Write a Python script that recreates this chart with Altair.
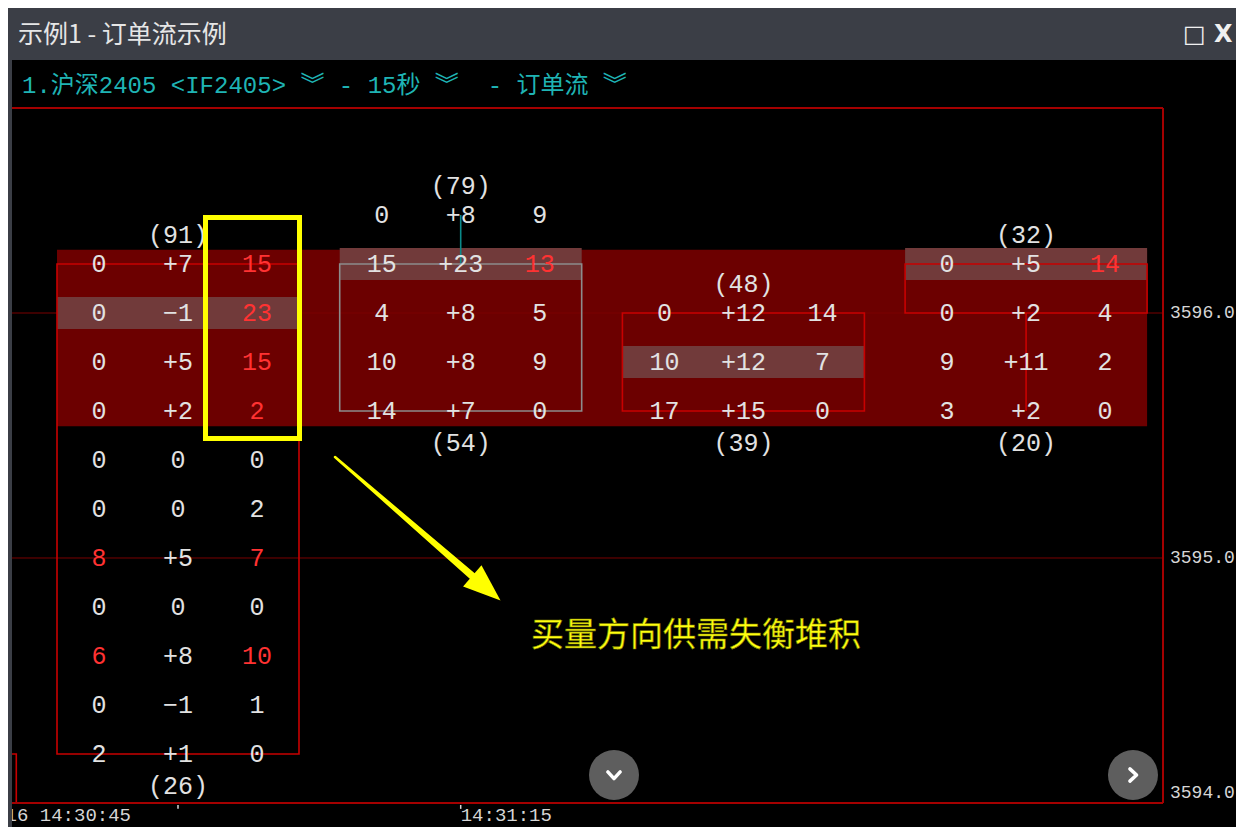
import altair as alt
import pandas as pd

# ------------------------------------------------------------------ data
bar_ids = [0, 1, 2, 3]

bar0_price = [3596.2, 3596.0, 3595.8, 3595.6, 3595.4, 3595.2, 3595.0, 3594.8, 3594.6, 3594.4, 3594.2]
bar0_bid = [0, 0, 0, 0, 0, 0, 8, 0, 6, 0, 2]
bar0_delta = [7, -1, 5, 2, 0, 0, 5, 0, 8, -1, 1]
bar0_ask = [15, 23, 15, 2, 0, 2, 7, 0, 10, 1, 0]
bar0_bid_hot = [0, 0, 0, 0, 0, 0, 1, 0, 1, 0, 0]
bar0_ask_hot = [1, 1, 1, 1, 0, 0, 1, 0, 1, 0, 0]

bar1_price = [3596.4, 3596.2, 3596.0, 3595.8, 3595.6]
bar1_bid = [0, 15, 4, 10, 14]
bar1_delta = [8, 23, 8, 8, 7]
bar1_ask = [9, 13, 5, 9, 0]
bar1_bid_hot = [0, 0, 0, 0, 0]
bar1_ask_hot = [0, 1, 0, 0, 0]

bar2_price = [3596.0, 3595.8, 3595.6]
bar2_bid = [0, 10, 17]
bar2_delta = [12, 12, 15]
bar2_ask = [14, 7, 0]
bar2_bid_hot = [0, 0, 0]
bar2_ask_hot = [0, 0, 0]

bar3_price = [3596.2, 3596.0, 3595.8, 3595.6]
bar3_bid = [0, 0, 9, 3]
bar3_delta = [5, 2, 11, 2]
bar3_ask = [14, 4, 2, 0]
bar3_bid_hot = [0, 0, 0, 0]
bar3_ask_hot = [1, 0, 0, 0]

top_totals = [91, 79, 48, 32]
bottom_totals = [26, 54, 39, 20]
poc_price = [3596.0, 3596.2, 3595.8, 3596.2]

box_bar = [-1, 0, 1, 2, 3]
box_open = [3594.2, 3596.2, 3596.2, 3596.0, 3596.2]
box_close = [3594.0, 3594.2, 3595.6, 3595.6, 3596.0]
box_kind = ["r", "r", "g", "r", "r"]

wick_bar = [1, 3]
wick_high = [3596.4, 3596.0]
wick_low = [3596.2, 3595.6]
wick_kind = ["t", "r"]

band_bars = [0, 3]
band_prices = [3595.6, 3596.2]

grid_prices = [3596.0, 3595.0]
price_axis = [3596.0, 3595.0, 3594.0]
time_labels = ["04/16 14:30:45", "14:31:15"]
time_bars = [0, 1]

# annotation drawn on the screenshot (in bar / price units)
note_box_x = [0.0973, 0.4298]
note_box_y = [3595.4878, 3596.3898]
arrow_x = [0.5554, 1.0587]
arrow_y = [3595.4122, 3594.9086]
arrow_w = [2.5, 7.5]
arrow_head = (1.0909, 3594.8767)
note_text = "买量方向供需失衡堆积"
note_pos = (1.8323, 3594.6816)

button_x = [1.5423, 3.3781]
button_y = [3594.1143, 3594.1143]
button_kind = ["down", "right"]

title_text = "示例1 - 订单流示例"
NB = "\u00a0"
subtitle_text = f"1.沪深2405{NB}<IF2405>{NB}︾{NB}-{NB}15秒{NB}︾{NB}{NB}-{NB}订单流{NB}︾"

# ------------------------------------------------------------------ layout constants
X_MIN, X_MAX = -0.5872, 3.7425
Y_MIN, Y_MAX = 3593.902, 3597.0327
FRAME_RIGHT = 3.4843
FRAME_TOP = 3596.8367
FRAME_BOTTOM = 3594.0
COL = 0.2795
HALF = 0.428
POC_H = 0.065

xs = alt.Scale(domain=[X_MIN, X_MAX], nice=False, zero=False)
ys = alt.Scale(domain=[Y_MIN, Y_MAX], nice=False, zero=False)


def X(f):
    return alt.X(f, type="quantitative", scale=xs, axis=None)


def Y(f):
    return alt.Y(f, type="quantitative", scale=ys, axis=None)


MONO = "Liberation Mono"
CJK = "Noto Sans CJK SC"
WHITE = "#e2e2e2"
HOT = "#ff3232"

bars = [
    (bar0_price, bar0_bid, bar0_delta, bar0_ask, bar0_bid_hot, bar0_ask_hot),
    (bar1_price, bar1_bid, bar1_delta, bar1_ask, bar1_bid_hot, bar1_ask_hot),
    (bar2_price, bar2_bid, bar2_delta, bar2_ask, bar2_bid_hot, bar2_ask_hot),
    (bar3_price, bar3_bid, bar3_delta, bar3_ask, bar3_bid_hot, bar3_ask_hot),
]


def signed(v):
    if v > 0:
        return f"+{v}"
    if v < 0:
        return "\u2212" + str(-v)
    return "0"


cells, totals, pocs = [], [], []
for b, (pr, bid, de, ask, bh, ah) in zip(bar_ids, bars):
    for k, p in enumerate(pr):
        cells.append({"x": b - COL, "y": p, "t": str(bid[k]), "hot": bh[k]})
        cells.append({"x": b, "y": p, "t": signed(de[k]), "hot": 0})
        cells.append({"x": b + COL, "y": p, "t": str(ask[k]), "hot": ah[k]})
    totals.append({"x": b, "y": max(pr) + 0.117, "t": f"({top_totals[b]})"})
    totals.append({"x": b, "y": min(pr) - 0.13, "t": f"({bottom_totals[b]})"})
    pocs.append({"x": b - HALF, "x2": b + HALF, "y": poc_price[b] - POC_H, "y2": poc_price[b] + POC_H})

cells = pd.DataFrame(cells)
totals = pd.DataFrame(totals)
pocs = pd.DataFrame(pocs)

boxes = pd.DataFrame({
    "x": [b - HALF for b in box_bar], "x2": [b + HALF for b in box_bar],
    "y": box_open, "y2": box_close, "k": box_kind,
})
wicks = pd.DataFrame({"x": wick_bar, "y": wick_high, "y2": wick_low, "k": wick_kind})
band = pd.DataFrame({
    "x": [band_bars[0] - HALF], "x2": [band_bars[1] + HALF],
    "y": [band_prices[0] - 0.062], "y2": [band_prices[1] + 0.058],
})
grid = pd.DataFrame({"x": [X_MIN] * len(grid_prices), "x2": [FRAME_RIGHT] * len(grid_prices), "y": grid_prices})
frame = pd.DataFrame({
    "x": [X_MIN, X_MIN, FRAME_RIGHT], "x2": [FRAME_RIGHT, FRAME_RIGHT, FRAME_RIGHT],
    "y": [FRAME_TOP, FRAME_BOTTOM, FRAME_BOTTOM], "y2": [FRAME_TOP, FRAME_BOTTOM, FRAME_TOP],
})
plabels = pd.DataFrame({"x": [FRAME_RIGHT] * len(price_axis), "y": price_axis,
                        "t": [f"{p:.1f}" for p in price_axis]})
tlabels = pd.DataFrame({"x": time_bars, "t": time_labels, "y": [3593.951] * len(time_bars)})
tticks = pd.DataFrame({"x": time_bars, "y": [3593.992] * len(time_bars), "y2": [3593.976] * len(time_bars)})

kind_scale = alt.Scale(domain=["r", "g", "t"], range=["#c80000", "#8c8c8c", "#0a8a8a"])

# ------------------------------------------------------------------ layers
layers = []

layers.append(alt.Chart(band).mark_rect(color="#6c0000").encode(
    x=X("x"), x2="x2", y=Y("y"), y2="y2"))

layers.append(alt.Chart(grid).mark_rule(color="#7a0000", strokeWidth=1).encode(
    x=X("x"), x2="x2", y=Y("y")))

layers.append(alt.Chart(pocs).mark_rect(color="#713a3a").encode(
    x=X("x"), x2="x2", y=Y("y"), y2="y2"))

layers.append(alt.Chart(wicks).mark_rule(strokeWidth=1.6).encode(
    x=X("x"), y=Y("y"), y2="y2",
    stroke=alt.Stroke("k:N", scale=kind_scale, legend=None)))

layers.append(alt.Chart(boxes).mark_rect(fillOpacity=0, strokeWidth=1.6, clip=True).encode(
    x=X("x"), x2="x2", y=Y("y"), y2="y2",
    stroke=alt.Stroke("k:N", scale=kind_scale, legend=None)))

layers.append(alt.Chart(frame).mark_rule(color="#a40000", strokeWidth=2).encode(
    x=X("x"), x2="x2", y=Y("y"), y2="y2"))

layers.append(alt.Chart(cells[cells["hot"] == 0]).mark_text(font=MONO, fontSize=25, baseline="middle",
                                                           color=WHITE).encode(
    x=X("x"), y=Y("y"), text="t:N"))
layers.append(alt.Chart(cells[cells["hot"] == 1]).mark_text(font=MONO, fontSize=25, baseline="middle",
                                                           color=HOT).encode(
    x=X("x"), y=Y("y"), text="t:N"))

layers.append(alt.Chart(totals).mark_text(font=MONO, fontSize=25, baseline="middle", color=WHITE).encode(
    x=X("x"), y=Y("y"), text="t:N"))

layers.append(alt.Chart(plabels.iloc[:2]).mark_text(font=MONO, fontSize=18, align="left", baseline="middle",
                                                    dx=7, color="#d6d6d6").encode(
    x=X("x"), y=Y("y"), text="t:N"))
layers.append(alt.Chart(plabels.iloc[2:]).mark_text(font=MONO, fontSize=18, align="left", baseline="bottom",
                                                    dx=7, dy=-1, color="#d6d6d6").encode(
    x=X("x"), y=Y("y"), text="t:N"))

layers.append(alt.Chart(tlabels.iloc[:1]).mark_text(font=MONO, fontSize=19, align="right", baseline="middle",
                                                    dx=-47, color="#d6d6d6", clip=True).encode(
    x=X("x"), y=Y("y"), text="t:N"))
layers.append(alt.Chart(tlabels.iloc[1:]).mark_text(font=MONO, fontSize=19, align="left", baseline="middle",
                                                    dx=0, color="#d6d6d6").encode(
    x=X("x"), y=Y("y"), text="t:N"))
layers.append(alt.Chart(tticks).mark_rule(color="#d6d6d6", strokeWidth=1.5).encode(
    x=X("x"), y=Y("y"), y2="y2"))

buttons = pd.DataFrame({"x": button_x, "y": button_y, "k": button_kind})
layers.append(alt.Chart(buttons).mark_point(shape="circle", filled=True, size=2500, color="#5e5e5e", opacity=1).encode(
    x=X("x"), y=Y("y")))
layers.append(alt.Chart(buttons).mark_point(filled=False, size=420, color="#ffffff", strokeWidth=3.5,
                                            opacity=1, strokeCap="round", strokeJoin="round").encode(
    x=X("x"), y=Y("y"),
    shape=alt.Shape("k:N", scale=alt.Scale(domain=["down", "right"],
                                           range=["M-0.6,-0.3L0,0.35L0.6,-0.3", "M-0.3,-0.6L0.35,0L-0.3,0.6"]),
                    legend=None)))

# yellow annotation
nbox = pd.DataFrame({"x": [note_box_x[0]], "x2": [note_box_x[1]], "y": [note_box_y[0]], "y2": [note_box_y[1]]})
layers.append(alt.Chart(nbox).mark_rect(fillOpacity=0, stroke="#ffff00", strokeWidth=5).encode(
    x=X("x"), x2="x2", y=Y("y"), y2="y2"))
shaft = pd.DataFrame({"x": arrow_x, "y": arrow_y, "w": arrow_w, "o": [0, 1]})
layers.append(alt.Chart(shaft).mark_trail(color="#ffff00").encode(
    x=X("x"), y=Y("y"), size=alt.Size("w:Q", scale=None, legend=None), order="o:Q"))
head = pd.DataFrame({"x": [arrow_head[0]], "y": [arrow_head[1]]})
layers.append(alt.Chart(head).mark_point(shape="M0,-1L0.75,1L-0.75,1Z", filled=True, size=1400, angle=131,
                                         color="#ffff00", opacity=1).encode(x=X("x"), y=Y("y")))
ntext = pd.DataFrame({"x": [note_pos[0]], "y": [note_pos[1]], "t": [note_text]})
layers.append(alt.Chart(ntext).mark_text(font=CJK, fontSize=33, color="#ffff10", stroke="#7a7a00",
                                         strokeWidth=0.6, baseline="middle").encode(
    x=X("x"), y=Y("y"), text="t:N"))

# window chrome (title bar and toolbar line)
layers.append(alt.Chart(pd.DataFrame({"t": [title_text]})).mark_text(
    font=CJK, fontSize=25, color="#e6e6e6", align="left", baseline="middle").encode(
    x=alt.value(6), y=alt.value(-25), text="t:N"))
layers.append(alt.Chart(pd.DataFrame({"t": ["□ X"]})).mark_text(
    font="DejaVu Sans", fontSize=24, fontWeight="bold", color="#f0f0f0", align="left", baseline="middle").encode(
    x=alt.value(1171), y=alt.value(-25), text="t:N"))
layers.append(alt.Chart(pd.DataFrame({"t": [subtitle_text]})).mark_text(
    font=f"{MONO}, {CJK}", fontSize=24, color="#1fb4b4", align="left", baseline="middle").encode(
    x=alt.value(10), y=alt.value(26), text="t:N"))

chart = alt.layer(*layers).properties(
    width=1224,
    height=767,
    autosize=alt.AutoSizeParams(type="none"),
    padding={"left": 4, "top": 52, "right": 0, "bottom": 0},
    background="#3b3e46",
).configure_view(fill="#000000", strokeWidth=0)

chart.save("out.html", embed_options={"renderer": "svg", "actions": False})
